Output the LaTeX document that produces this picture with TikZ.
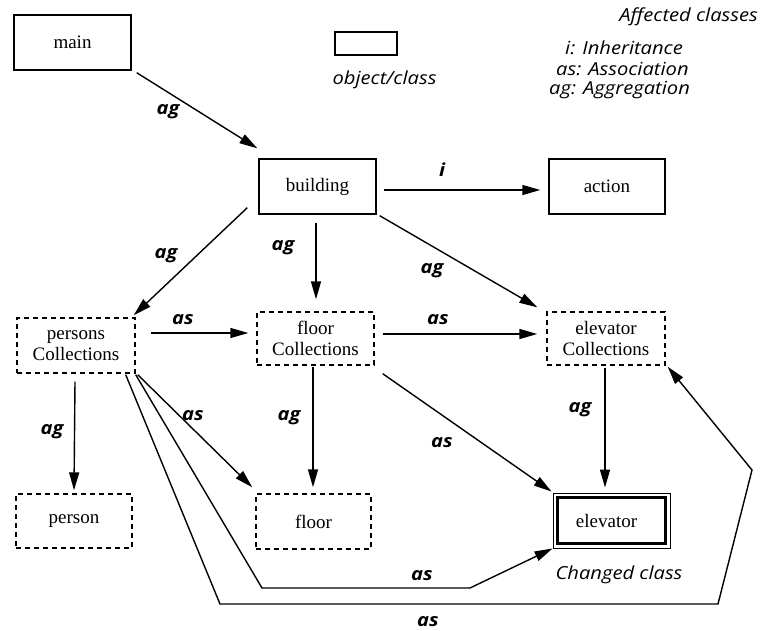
\documentclass[tikz,border=0pt]{standalone}
\usepackage{fontspec}
\setmainfont{Liberation Serif}
\newfontfamily\labfont[FakeStretch=1.12]{Open Sans}
\usetikzlibrary{arrows.meta,calc}
\begin{document}
\begin{tikzpicture}[x=1pt,y=-1pt,
  cls/.style={draw,line width=1.4pt,minimum width=117pt,minimum height=55pt,inner sep=0pt,
    font=\fontsize{19}{21}\selectfont,align=center},
  coll/.style={cls,dash pattern=on 5pt off 4pt},
  arr/.style={line width=1.4pt,-{Triangle[length=18pt,width=10pt]}},
  lbl/.style={font=\labfont\bfseries\itshape\fontsize{18}{21}\selectfont,inner sep=0pt},
  legend/.style={font=\labfont\itshape\fontsize{18}{21}\selectfont,inner sep=0pt}]
\useasboundingbox (0,0) rectangle (763,631);

% legend
\node[draw,line width=1.2pt,minimum width=62pt,minimum height=23pt,inner sep=0pt] (key) at (366,43.5) {};
\node[legend] (keytext) at (384.5,80) {object/class};
\node[legend,anchor=east] (aff) at (758,17) {Affected classes};
\node[legend,anchor=west] (li) at (565,48) {i: Inheritance};
\node[legend,anchor=west] (las) at (556,69) {as: Association};
\node[legend,anchor=west] (lag) at (549,90) {ag: Aggregation};

% classes
\node[cls] (main) at (72.5,42.5) {main};
\node[cls] (building) at (317.5,186.5) {building};
\node[cls,minimum width=116pt] (action) at (607,186.5) {action};
\node[coll,minimum width=118pt] (personsC) at (76,345.5) {persons\\Collections};
\node[coll,minimum height=53pt] (floorC) at (315.5,338.5) {floor\\Collections};
\node[coll,minimum width=118pt,minimum height=53pt] (elevC) at (606,338.5) {elevator\\Collections};
\node[coll,minimum width=116pt,minimum height=54pt] (person) at (74,521) {person};
\node[coll,minimum width=115pt] (floor) at (313.5,521.5) {floor};
\node[draw,line width=0.9pt,minimum width=117pt,minimum height=55pt,inner sep=0pt,
  font=\fontsize{19}{21}\selectfont] (elevator) at (611.5,520.5) {\hspace*{-10pt}elevator};
\draw[line width=2.6pt] ($(elevator.north west)+(5,5)$) rectangle ($(elevator.south east)+(-5,-5)$);
\node[legend] (changed) at (619,575) {Changed class};

% bend points of the long associations
\coordinate (b1) at (262,588);
\coordinate (b2) at (470,588);
\coordinate (c1) at (220,604);
\coordinate (c2) at (718,604);
\coordinate (c3) at (752,470);

% connectors
\draw[arr] ($(main.south east)+(5,2)$) -- ($(building.north west)+(-1,-10)$);
\draw[arr] ($(building.east)+(7,3.5)$) -- ($(action.west)+(-8,3.5)$);
\draw[arr] ($(building.south west)+(-11,-7)$) -- ($(personsC.north east)+(-2,-2)$);
\draw[arr] ($(building.south)+(-1.5,8)$) -- ($(floorC.north)+(0.5,-12)$);
\draw[arr] ($(building.south east)+(3,1)$) -- ($(elevC.north west)+(-9,-4)$);
\draw[arr] ($(personsC.east)+(15,-12.5)$) -- ($(floorC.west)+(-8,-5.5)$);
\draw[arr] ($(floorC.east)+(8,-4.5)$) -- ($(elevC.west)+(-9,-4.5)$);
\draw[arr] ($(personsC.south)+(-1,8)$) -- ($(person.north)+(0,-3)$);
\draw[arr] ($(floorC.south)+(-2.5,1)$) -- ($(floor.north)+(-0.5,-6)$);
\draw[arr] ($(personsC.south east)+(2,1)$) -- ($(floor.north west)+(-3,-6)$);
\draw[arr] ($(floorC.south east)+(8,8)$) -- ($(elevator.north west)+(-1,-1)$);
\draw[arr] ($(elevC.south)+(-1,2)$) -- ($(elevator.north)+(-6.5,-5)$);
\draw[arr] ($(personsC.south east)+(0,1)$) -- (b1) -- (b2) -- (elevator.south west);
\draw[arr] ($(personsC.south east)+(-10,1)$) -- (c1) -- (c2) -- (c3) -- ($(elevC.south east)+(2,1)$);

% connector labels
\node[lbl] (l1) at (168,112) {ag};
\node[lbl] (l2) at (442,170) {i};
\node[lbl] (l3) at (166,256) {ag};
\node[lbl] (l4) at (283,248) {ag};
\node[lbl] (l5) at (432,271) {ag};
\node[lbl] (l6) at (183,320) {as};
\node[lbl] (l7) at (438,320) {as};
\node[lbl] (l8) at (52,432) {ag};
\node[lbl] (l9) at (289,418) {ag};
\node[lbl] (l10) at (193,416) {as};
\node[lbl] (l11) at (442,443) {as};
\node[lbl] (l12) at (580,410) {ag};
\node[lbl] (l13) at (422,576) {as};
\node[lbl] (l14) at (428,622) {as};
\end{tikzpicture}
\end{document}
